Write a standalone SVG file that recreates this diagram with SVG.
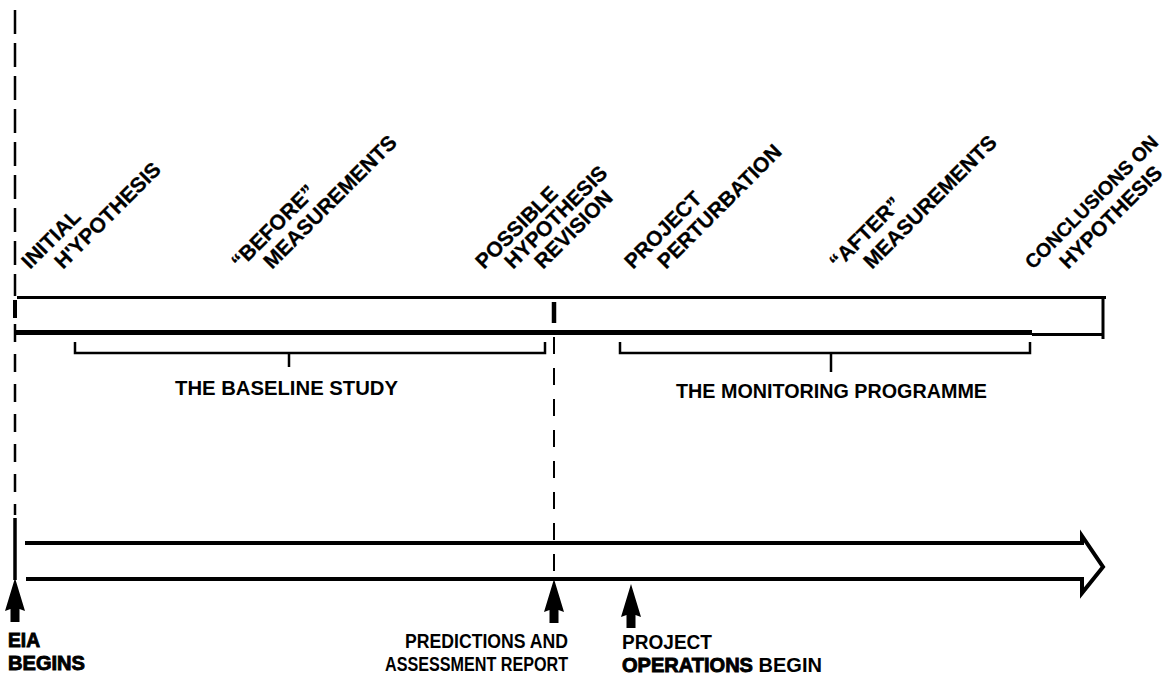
<svg xmlns="http://www.w3.org/2000/svg" width="1169" height="678" viewBox="0 0 1169 678">
<style>
.rt{font-family:"Liberation Sans",Arial,sans-serif;font-weight:bold;font-size:21px;fill:#000;stroke:#000;stroke-width:0.3}
.ht{font-family:"Liberation Sans",Arial,sans-serif;font-weight:bold;font-size:20px;fill:#000}
.hv{stroke:#000;stroke-width:0.9}
.ln{stroke:#000;fill:none;stroke-linecap:butt}
</style>
<defs>
<path id="uparrow" d="M0,0 L10,33 L4.5,31 L4.5,44 L-4.5,44 L-4.5,31 L-10,33 Z" fill="#000"/>
</defs>
<g id="connectors">
<line class="ln" x1="15" y1="10" x2="15" y2="296" stroke-width="2.5" stroke-dasharray="24 9"/>
<line class="ln" x1="15" y1="300" x2="15" y2="318" stroke-width="4"/>
<line class="ln" x1="15" y1="324" x2="15" y2="515" stroke-width="2.5" stroke-dasharray="18 12"/>
<line class="ln" x1="554" y1="302" x2="554" y2="323" stroke-width="4.5"/>
<line class="ln" x1="554" y1="337" x2="554" y2="580" stroke-width="2" stroke-dasharray="17 14"/>
<line class="ln" x1="17" y1="297.5" x2="1106" y2="297.5" stroke-width="3"/>
<line class="ln" x1="1103" y1="299" x2="1103" y2="339" stroke-width="3"/>
<line class="ln" x1="15" y1="332.5" x2="1032" y2="332.5" stroke-width="5"/>
<line class="ln" x1="1032" y1="334.5" x2="1104" y2="334.5" stroke-width="3"/>
<path class="ln" d="M75,342 V353 H545 V342" stroke-width="2.5"/>
<line class="ln" x1="289" y1="353" x2="289" y2="367" stroke-width="2.5"/>
<path class="ln" d="M620,342 V353 H1030 V342" stroke-width="2.5"/>
<line class="ln" x1="831" y1="353" x2="831" y2="372" stroke-width="2.5"/>
<line class="ln" x1="15" y1="518" x2="15" y2="580" stroke-width="3.5"/>
<path class="ln" d="M25,543 H1082 V536 L1103,567 L1082,593 V579 H26" stroke-width="4" stroke-linejoin="miter"/>
<use href="#uparrow" x="15" y="578"/>
<use href="#uparrow" x="554" y="579"/>
<use href="#uparrow" x="631" y="584"/>
</g>
<g id="label-initial">
<text class="rt" x="30" y="270" transform="rotate(-45 30 270)">INITIAL</text>
<text class="rt" x="63" y="270" transform="rotate(-45 63 270)">H'YPOTHESIS</text>
</g>
<g id="label-before">
<text class="rt" x="240" y="270" transform="rotate(-45 240 270)">“BEFORE”</text>
<text class="rt" x="272" y="270" transform="rotate(-45 272 270)">MEASUREMENTS</text>
</g>
<g id="label-revision">
<text class="rt" x="484" y="270" transform="rotate(-45 484 270)">POSSIBLE</text>
<text class="rt" x="513" y="270" transform="rotate(-45 513 270)">HYPOTHESIS</text>
<text class="rt" x="543" y="270" transform="rotate(-45 543 270)">REVISION</text>
</g>
<g id="label-perturbation">
<text class="rt" x="633" y="270" transform="rotate(-45 633 270)">PROJECT</text>
<text class="rt" x="666" y="270" transform="rotate(-45 666 270)">PERTURBATION</text>
</g>
<g id="label-after">
<text class="rt" x="838" y="270" transform="rotate(-45 838 270)">“AFTER”</text>
<text class="rt" x="872" y="270" transform="rotate(-45 872 270)">MEASUREMENTS</text>
</g>
<g id="label-conclusions">
<text class="rt" x="1033" y="270" transform="rotate(-45 1033 270)" style="font-size:19.5px">CONCLUSIONS ON</text>
<text class="rt" x="1068" y="270" transform="rotate(-45 1068 270)">HYPOTHESIS</text>
</g>
<g id="baseline-study">
<text class="ht" x="175" y="395" textLength="223" lengthAdjust="spacingAndGlyphs">THE BASELINE STUDY</text>
</g>
<g id="monitoring-programme">
<text class="ht" x="676" y="398" textLength="311" lengthAdjust="spacingAndGlyphs">THE  MONITORING  PROGRAMME</text>
</g>
<g id="eia-begins">
<text class="ht hv" x="8" y="647" textLength="32" lengthAdjust="spacingAndGlyphs">EIA</text>
<text class="ht hv" x="8" y="670" textLength="77" lengthAdjust="spacingAndGlyphs">BEGINS</text>
</g>
<g id="predictions-report">
<text class="ht" x="405" y="648" textLength="163" lengthAdjust="spacingAndGlyphs">PREDICTIONS  AND</text>
<text class="ht" x="385" y="671" textLength="183" lengthAdjust="spacingAndGlyphs">ASSESSMENT  REPORT</text>
</g>
<g id="operations-begin">
<text class="ht" x="622" y="649" textLength="90" lengthAdjust="spacingAndGlyphs">PROJECT</text>
<text class="ht" x="622" y="672" textLength="200" lengthAdjust="spacingAndGlyphs"><tspan class="hv">OPERATIONS</tspan> BEGIN</text>
</g>
</svg>
